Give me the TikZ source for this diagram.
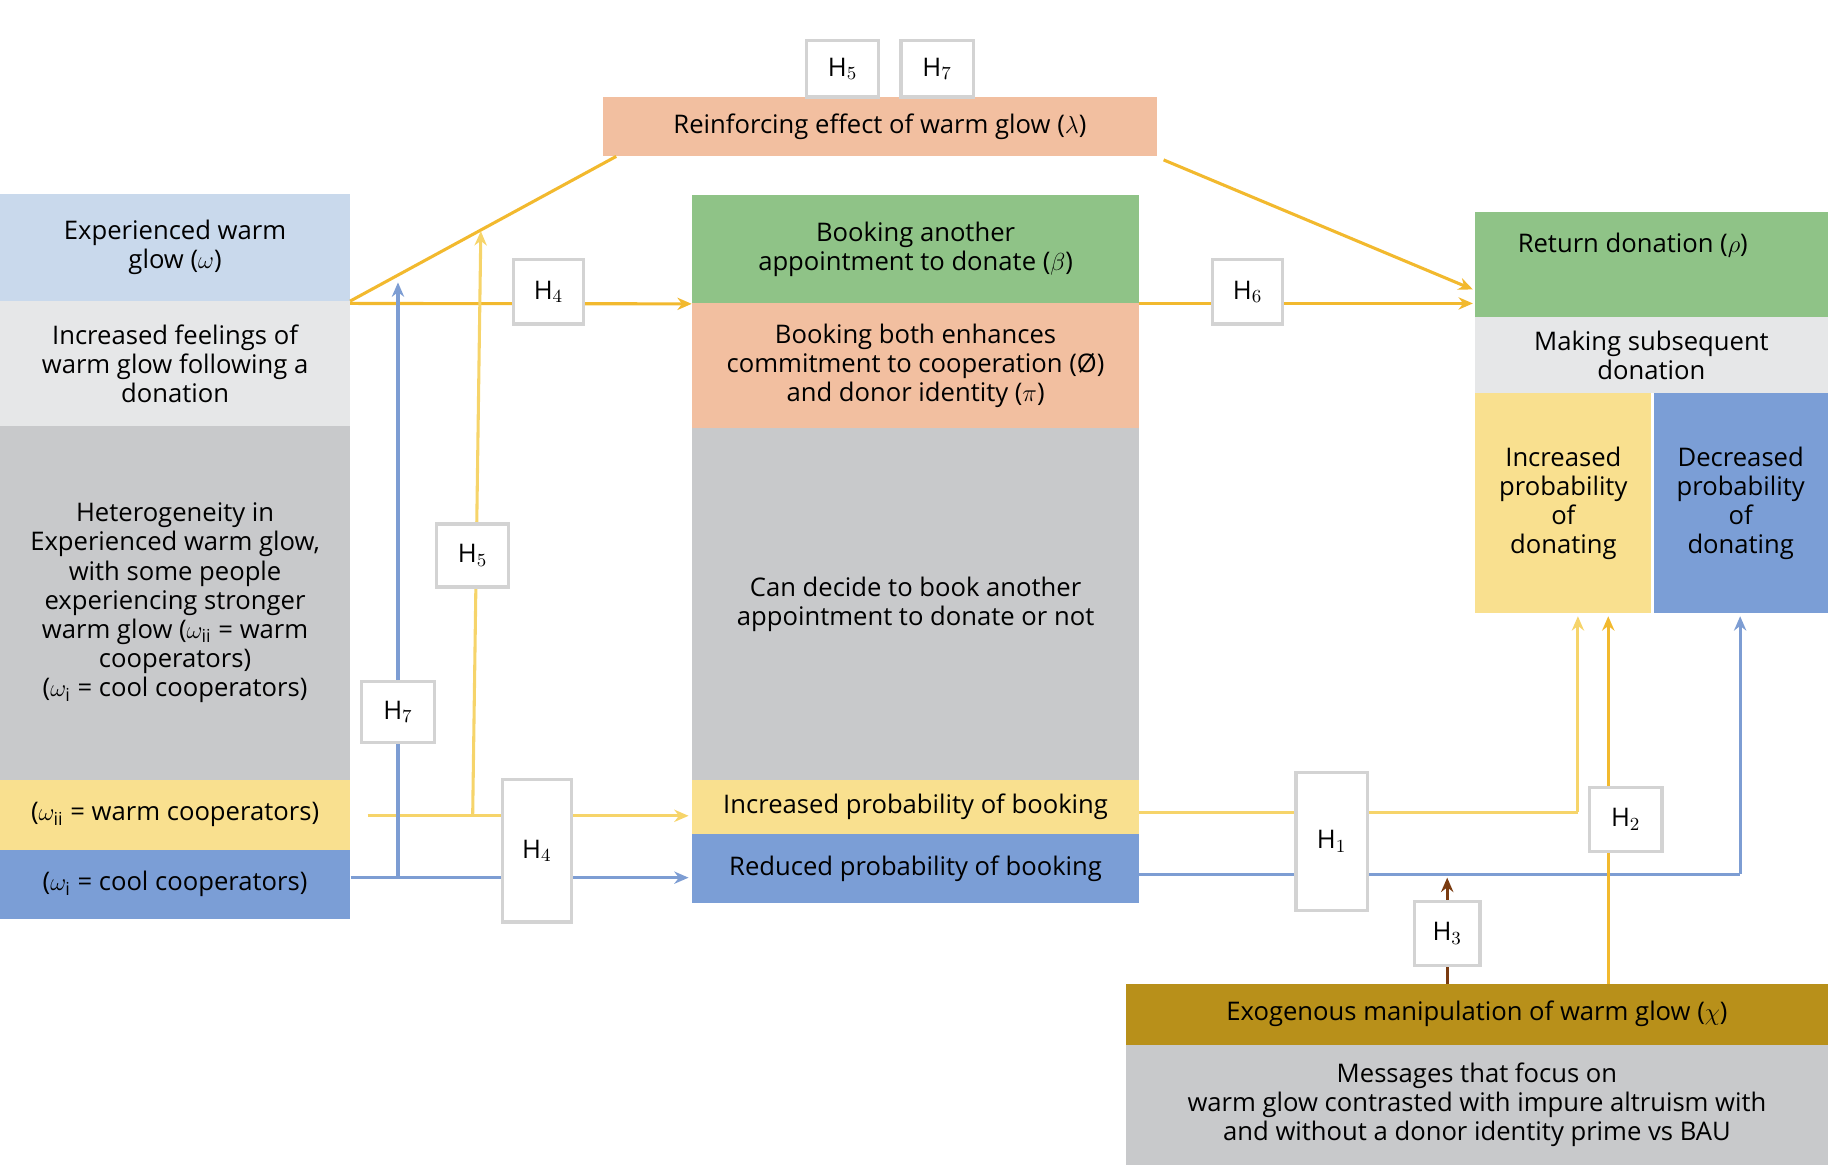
\documentclass[tikz,border=0pt]{standalone}
\usepackage{fontspec}
\setmainfont{Open Sans}
\usetikzlibrary{arrows.meta}
\definecolor{lblue}{HTML}{C9D9EC}
\definecolor{lgray}{HTML}{E6E7E8}
\definecolor{mgray}{HTML}{C8C9CB}
\definecolor{yel}{HTML}{F9E08F}
\definecolor{blu}{HTML}{7B9ED6}
\definecolor{grn}{HTML}{8FC387}
\definecolor{sal}{HTML}{F2BFA0}
\definecolor{gold}{HTML}{B8901A}
\definecolor{ybl}{HTML}{F2B92E}
\definecolor{lyl}{HTML}{F6D46A}
\definecolor{bln}{HTML}{7D9DD3}
\definecolor{brn}{HTML}{7A3B10}
\definecolor{hb}{HTML}{D3D3D3}
\begin{document}
\begin{tikzpicture}[x=0.02cm,y=-0.02cm,
 font=\fontsize{12.5}{14.2}\selectfont,
 blk/.style={draw=none,inner sep=2pt,align=center},
 hbox/.style={draw=hb,line width=1.6pt,fill=white,inner sep=0pt},
 con/.style={line width=1.5pt,-{Stealth[length=7pt,width=6pt]}},
 ln/.style={line width=1.5pt}]
\useasboundingbox (0,0) rectangle (1568,998);
% left column
\node[blk,fill=lblue,minimum width=6cm,minimum height=1.84cm] (L1) at (150,212) {Experienced warm\\glow ($\omega$)};
\node[blk,fill=lgray,minimum width=6cm,minimum height=2.14cm] (L2) at (150,311.5) {Increased feelings of\\warm glow following a\\donation};
\node[blk,fill=mgray,minimum width=6cm,minimum height=6.06cm] (L3) at (150,516.5) {Heterogeneity in\\Experienced warm glow,\\with some people\\experiencing stronger\\warm glow ($\omega_{\mathrm{ii}}$ = warm\\cooperators)\\($\omega_{\mathrm{i}}$ = cool cooperators)};
\node[blk,fill=yel,minimum width=6cm,minimum height=1.2cm] (L4) at (150,698) {($\omega_{\mathrm{ii}}$ = warm cooperators)};
\node[blk,fill=blu,minimum width=6cm,minimum height=1.18cm] (L5) at (150,757.5) {($\omega_{\mathrm{i}}$ = cool cooperators)};
% middle column
\node[blk,fill=grn,minimum width=7.66cm,minimum height=1.86cm] (M1) at (784.5,213.5) {Booking another\\appointment to donate ($\beta$)};
\node[blk,fill=sal,minimum width=7.66cm,minimum height=2.14cm] (M2) at (784.5,313.5) {Booking both enhances\\commitment to cooperation (Ø)\\and donor identity ($\pi$)};
\node[blk,fill=mgray,minimum width=7.66cm,minimum height=6.02cm] (M3) at (784.5,517.5) {Can decide to book another\\appointment to donate or not};
\node[blk,fill=yel,minimum width=7.66cm,minimum height=0.94cm] (M4) at (784.5,691.5) {Increased probability of booking};
\node[blk,fill=blu,minimum width=7.66cm,minimum height=1.18cm] (M5) at (784.5,744.5) {Reduced probability of booking};
% top
\node[blk,fill=sal,minimum width=9.48cm,minimum height=1.02cm] (T) at (754,108.5) {Reinforcing effect of warm glow ($\lambda$)};
% right column
\node[blk,fill=grn,minimum width=6.04cm,minimum height=1.8cm] (R1) at (1415,227) {};
\node[blk] (R1t) at (1399,210) {Return donation ($\rho$)};
\node[blk,fill=lgray,minimum width=6.04cm,minimum height=1.3cm] (R2) at (1415,304.5) {Making subsequent\\donation};
\node[blk,fill=yel,minimum width=3.02cm,minimum height=3.76cm] (R3) at (1339.5,431) {Increased\\probability\\of\\donating};
\node[blk,fill=blu,minimum width=2.98cm,minimum height=3.76cm] (R4) at (1491.5,431) {Decreased\\probability\\of\\donating};
% bottom
\node[blk,fill=gold,minimum width=12.02cm,minimum height=1.04cm] (B1) at (1265.5,869) {Exogenous manipulation of warm glow ($\chi$)};
\node[blk,fill=mgray,minimum width=12.02cm,minimum height=2.06cm] (B2) at (1265.5,946.5) {Messages that focus on\\warm glow contrasted with impure altruism with\\and without a donor identity prime vs BAU};
% coordinates
\coordinate (a1) at (528,134);
\coordinate (a2) at (997,137);
\coordinate (yA) at (405,699);
\coordinate (bA) at (341,752);
\coordinate (yR) at (1352,696);
\coordinate (bR) at (1491,749);
% connectors
\draw[ln,ybl] (300,258) -- (a1);
\draw[con,ybl] (a2) -- (1262,248);
\draw[con,ybl] (300,260) -- (M1.south west);
\draw[con,ybl] (976,260) -- (1262,260);
\draw[ln,lyl] (315,699) -- (yA);
\draw[con,lyl] (yA) -- (412,198);
\draw[con,lyl] (yA) -- (590,699);
\draw[ln,bln] (L5.east |- bA) -- (bA);
\draw[con,bln] (bA) -- (341,242);
\draw[con,bln] (bA) -- (590,752);
\draw[ln,lyl] (976,696) -- (yR);
\draw[con,lyl] (yR) -- (1352,528);
\draw[ln,bln] (976,749) -- (bR);
\draw[con,bln] (bR) -- (1491,528);
\draw[con,ybl] (1378,843) -- (1378,528);
\draw[con,brn] (1240,843) -- (1240,752);
% H boxes
\newcommand{\hh}[1]{H$_{#1}$}
\node[hbox,minimum width=1.24cm,minimum height=0.96cm] (h5t) at (722,59) {\hh{5}};
\node[hbox,minimum width=1.24cm,minimum height=0.96cm] (h7t) at (803,59) {\hh{7}};
\node[hbox,minimum width=1.2cm,minimum height=1.1cm] (h4a) at (470,250) {\hh{4}};
\node[hbox,minimum width=1.2cm,minimum height=1.1cm] (h6) at (1069,250) {\hh{6}};
\node[hbox,minimum width=1.24cm,minimum height=1.08cm] (h5m) at (405,476) {\hh{5}};
\node[hbox,minimum width=1.24cm,minimum height=1.04cm] (h7m) at (341,610) {\hh{7}};
\node[hbox,minimum width=1.18cm,minimum height=2.44cm] (h4b) at (460,729) {\hh{4}};
\node[hbox,minimum width=1.22cm,minimum height=2.36cm] (h1) at (1141,721) {\hh{1}};
\node[hbox,minimum width=1.24cm,minimum height=1.1cm] (h2) at (1393,702) {\hh{2}};
\node[hbox,minimum width=1.12cm,minimum height=1.1cm] (h3) at (1240,800) {\hh{3}};
\end{tikzpicture}
\end{document}
